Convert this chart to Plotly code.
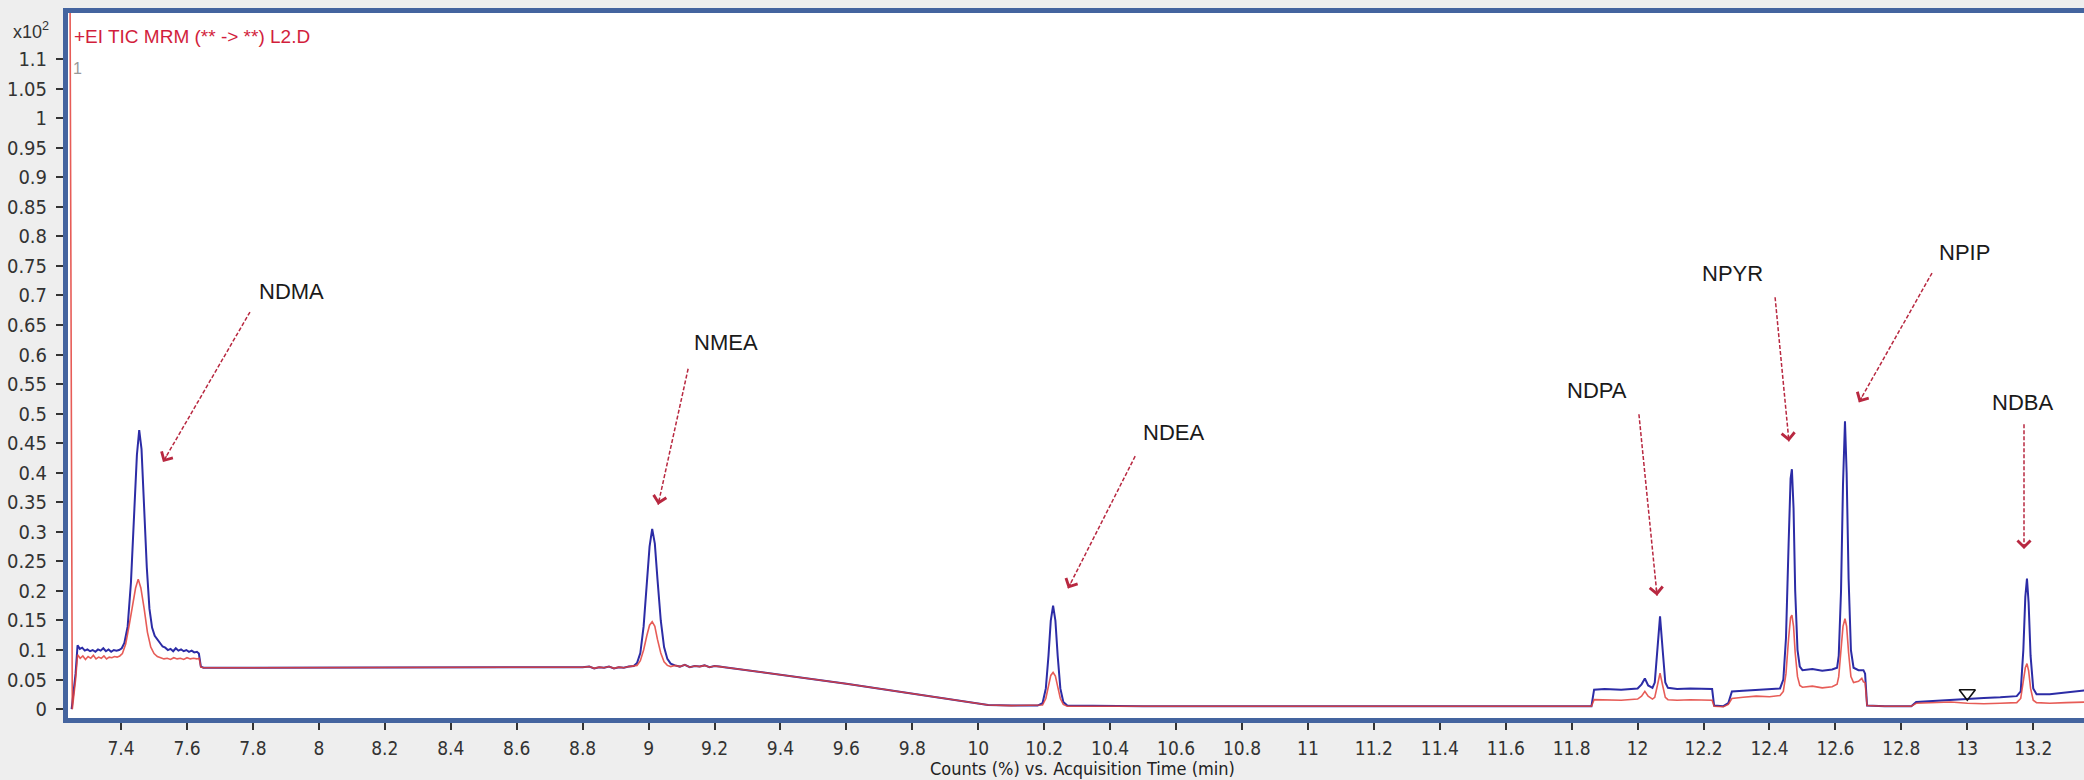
import plotly.graph_objects as go

# ---------------- data ----------------
blue_time = [7.250, 7.262, 7.268, 7.275, 7.282, 7.290, 7.298, 7.306, 7.314, 7.322, 7.330, 7.338, 7.346, 7.354,
             7.362, 7.370, 7.378, 7.386, 7.394, 7.402, 7.410, 7.420, 7.430, 7.440, 7.448, 7.455, 7.462, 7.470,
             7.478, 7.486, 7.494, 7.502, 7.510, 7.518, 7.526, 7.534, 7.542, 7.550, 7.558, 7.566, 7.574, 7.582,
             7.590, 7.598, 7.606, 7.614, 7.622, 7.630, 7.636, 7.642, 7.650, 7.800, 8.000, 8.200, 8.400, 8.600,
             8.800, 8.820, 8.835, 8.850, 8.865, 8.880, 8.895, 8.910, 8.925, 8.940, 8.955, 8.965, 8.975, 8.985,
             8.995, 9.003, 9.011, 9.019, 9.027, 9.037, 9.047, 9.057, 9.067, 9.080, 9.095, 9.110, 9.125, 9.140,
             9.155, 9.170, 9.185, 9.200, 9.215, 9.230, 9.600, 10.030, 10.100, 10.180, 10.195, 10.205, 10.213,
             10.220, 10.227, 10.234, 10.241, 10.249, 10.258, 10.270, 10.500, 11.000, 11.500, 11.860, 11.868,
             11.900, 11.950, 12.000, 12.012, 12.022, 12.032, 12.045, 12.052, 12.060, 12.068, 12.076, 12.084,
             12.092, 12.120, 12.160, 12.200, 12.226, 12.232, 12.260, 12.275, 12.286, 12.320, 12.360, 12.400,
             12.432, 12.442, 12.450, 12.458, 12.464, 12.468, 12.473, 12.478, 12.485, 12.492, 12.500, 12.530,
             12.560, 12.590, 12.605, 12.610, 12.617, 12.623, 12.629, 12.634, 12.640, 12.647, 12.655, 12.670,
             12.685, 12.690, 12.696, 12.750, 12.830, 12.845, 12.900, 12.950, 13.000, 13.050, 13.100, 13.150,
             13.162, 13.170, 13.176, 13.181, 13.186, 13.192, 13.200, 13.210, 13.250, 13.300, 13.360]
blue_counts = [0.000, 0.060, 0.108, 0.102, 0.104, 0.099, 0.101, 0.098, 0.100, 0.097, 0.101, 0.099, 0.103, 0.098,
               0.101, 0.097, 0.100, 0.099, 0.100, 0.103, 0.112, 0.140, 0.215, 0.330, 0.430, 0.472, 0.440, 0.340,
               0.240, 0.170, 0.138, 0.124, 0.118, 0.110, 0.106, 0.104, 0.100, 0.102, 0.098, 0.103, 0.099, 0.101,
               0.098, 0.100, 0.097, 0.099, 0.096, 0.097, 0.094, 0.072, 0.070, 0.070, 0.070, 0.070, 0.070, 0.071,
               0.071, 0.072, 0.069, 0.071, 0.070, 0.072, 0.069, 0.071, 0.070, 0.072, 0.073, 0.078, 0.095, 0.140,
               0.210, 0.275, 0.305, 0.280, 0.220, 0.150, 0.105, 0.085, 0.077, 0.074, 0.072, 0.075, 0.071, 0.073,
               0.072, 0.074, 0.071, 0.073, 0.072, 0.071, 0.043, 0.007, 0.006, 0.006, 0.010, 0.035, 0.090,
               0.150, 0.175, 0.150, 0.090, 0.035, 0.012, 0.006, 0.005, 0.005, 0.005, 0.005, 0.033,
               0.034, 0.033, 0.035, 0.042, 0.052, 0.040, 0.036, 0.045, 0.100, 0.157, 0.100, 0.045,
               0.036, 0.034, 0.035, 0.034, 0.034, 0.006, 0.005, 0.010, 0.030, 0.031, 0.032, 0.034,
               0.035, 0.050, 0.120, 0.280, 0.390, 0.406, 0.340, 0.200, 0.100, 0.072, 0.066, 0.068,
               0.065, 0.067, 0.070, 0.090, 0.200, 0.380, 0.487, 0.400, 0.220, 0.100, 0.070, 0.066,
               0.066, 0.060, 0.006, 0.005, 0.005, 0.012, 0.014, 0.016, 0.018, 0.019, 0.020, 0.022,
               0.030, 0.100, 0.190, 0.221, 0.180, 0.090, 0.035, 0.025, 0.025, 0.028, 0.032]

red_time = [7.245, 7.252, 7.262, 7.268, 7.276, 7.284, 7.292, 7.300, 7.308, 7.316, 7.324, 7.332, 7.340, 7.348,
            7.356, 7.364, 7.372, 7.380, 7.388, 7.396, 7.404, 7.414, 7.424, 7.434, 7.444, 7.452, 7.460, 7.470,
            7.480, 7.490, 7.500, 7.510, 7.520, 7.530, 7.540, 7.550, 7.560, 7.570, 7.580, 7.590, 7.600, 7.610,
            7.620, 7.630, 7.637, 7.642, 7.650, 7.800, 8.000, 8.200, 8.400, 8.600, 8.800, 8.820, 8.835, 8.850,
            8.865, 8.880, 8.895, 8.910, 8.925, 8.940, 8.955, 8.965, 8.975, 8.985, 8.995, 9.003, 9.011, 9.019,
            9.027, 9.037, 9.047, 9.057, 9.067, 9.080, 9.095, 9.110, 9.125, 9.140, 9.155, 9.170, 9.185, 9.200,
            9.215, 9.230, 9.600, 10.030, 10.100, 10.180, 10.195, 10.205, 10.213, 10.220, 10.227, 10.234, 10.241,
            10.249, 10.258, 10.270, 10.500, 11.000, 11.500, 11.860, 11.868, 11.900, 11.950, 12.000, 12.012,
            12.022, 12.032, 12.045, 12.052, 12.060, 12.068, 12.076, 12.084, 12.092, 12.120, 12.160, 12.200,
            12.226, 12.232, 12.260, 12.275, 12.286, 12.320, 12.360, 12.400, 12.432, 12.442, 12.450, 12.458,
            12.464, 12.468, 12.473, 12.478, 12.485, 12.492, 12.500, 12.530, 12.560, 12.590, 12.605, 12.610,
            12.617, 12.623, 12.629, 12.634, 12.640, 12.647, 12.655, 12.670, 12.680, 12.685, 12.690, 12.696,
            12.750, 12.830, 12.845, 12.900, 12.950, 13.000, 13.050, 13.100, 13.150, 13.162, 13.170, 13.176,
            13.181, 13.186, 13.192, 13.200, 13.210, 13.250, 13.300, 13.360]
red_counts = [1.250, 0.000, 0.050, 0.092, 0.086, 0.090, 0.084, 0.089, 0.086, 0.091, 0.085, 0.088, 0.086, 0.090,
              0.085, 0.088, 0.087, 0.089, 0.088, 0.090, 0.094, 0.110, 0.140, 0.175, 0.205, 0.220, 0.205, 0.170,
              0.130, 0.105, 0.094, 0.089, 0.087, 0.085, 0.086, 0.084, 0.087, 0.085, 0.086, 0.084, 0.087, 0.085,
              0.086, 0.085, 0.086, 0.071, 0.070, 0.070, 0.070, 0.070, 0.070, 0.071, 0.071, 0.072, 0.069, 0.071,
              0.070, 0.072, 0.069, 0.071, 0.070, 0.072, 0.073, 0.074, 0.082, 0.100, 0.125, 0.142, 0.148, 0.140,
              0.118, 0.095, 0.080, 0.074, 0.072, 0.074, 0.072, 0.075, 0.071, 0.073, 0.072, 0.074, 0.071, 0.073,
              0.072, 0.071, 0.043, 0.007, 0.006, 0.006, 0.007, 0.018, 0.040, 0.057, 0.062, 0.056, 0.038,
              0.018, 0.008, 0.005, 0.005, 0.005, 0.005, 0.005, 0.016, 0.016, 0.015, 0.017, 0.022,
              0.030, 0.022, 0.017, 0.020, 0.040, 0.061, 0.040, 0.020, 0.016, 0.015, 0.016, 0.015,
              0.015, 0.005, 0.004, 0.008, 0.018, 0.020, 0.022, 0.021, 0.023, 0.030, 0.060, 0.120,
              0.155, 0.159, 0.140, 0.095, 0.055, 0.040, 0.037, 0.039, 0.036, 0.038, 0.042, 0.055,
              0.100, 0.140, 0.153, 0.140, 0.095, 0.055, 0.045, 0.047, 0.052, 0.046, 0.045, 0.006,
              0.005, 0.005, 0.010, 0.011, 0.012, 0.010, 0.009, 0.010, 0.011, 0.018, 0.045, 0.070,
              0.077, 0.065, 0.035, 0.015, 0.011, 0.010, 0.011, 0.012]

# peak labels: name, text position, arrow tail, arrow tip (time, counts x10^2)
peak_names = ["NDMA", "NMEA", "NDEA", "NDPA", "NPYR", "NPIP", "NDBA"]
label_t = [7.916, 9.235, 10.591, 11.877, 12.289, 12.993, 13.166]
label_v = [0.706, 0.620, 0.468, 0.539, 0.738, 0.773, 0.519]
tail_t = [7.791, 9.120, 10.476, 12.004, 12.417, 12.893, 13.172]
tail_v = [0.672, 0.576, 0.428, 0.499, 0.697, 0.738, 0.482]
tip_t = [7.527, 9.029, 10.272, 12.059, 12.459, 12.671, 13.172]
tip_v = [0.418, 0.346, 0.204, 0.192, 0.453, 0.519, 0.271]

marker_t = [13.0]
marker_v = [0.027]

x_ticks = [round(7.4 + 0.2 * i, 1) for i in range(30)]
x_ticktext = [("%g" % v) for v in x_ticks]
y_ticks = [round(0.05 * i, 2) for i in range(23)]
y_ticktext = [("%g" % v) for v in y_ticks]

# ---------------- figure ----------------
BLUE = "#2c2ca6"
RED = "#e3403a"
ARROW = "#b82840"
NARROW = "Liberation Sans Narrow, DejaVu Sans Condensed, Arial Narrow, Liberation Sans, Arial, sans-serif"
SANS = "Liberation Sans, Arial, sans-serif"

fig = go.Figure()
fig.add_trace(go.Scatter(x=blue_time, y=blue_counts, mode="lines",
                         line=dict(color=BLUE, width=2.0), hoverinfo="skip"))
fig.add_trace(go.Scatter(x=red_time, y=red_counts, mode="lines",
                         line=dict(color=RED, width=1.6), opacity=0.85, hoverinfo="skip"))
fig.add_trace(go.Scatter(x=marker_t, y=marker_v, mode="markers",
                         marker=dict(symbol="triangle-down-open", size=14, color="#111",
                                     line=dict(width=1.6, color="#111")), hoverinfo="skip"))

for i, name in enumerate(peak_names):
    fig.add_shape(type="line", xref="x", yref="y",
                  x0=tail_t[i], y0=tail_v[i], x1=tip_t[i], y1=tip_v[i],
                  line=dict(color=ARROW, width=1.5, dash="4px,2px"))
    fig.add_annotation(x=tip_t[i], y=tip_v[i], xref="x", yref="y",
                       ax=tip_t[i] + 0.05 * (tail_t[i] - tip_t[i]),
                       ay=tip_v[i] + 0.05 * (tail_v[i] - tip_v[i]),
                       axref="x", ayref="y", text="", showarrow=True,
                       arrowhead=4, arrowsize=1.8, arrowwidth=1.4, arrowcolor=ARROW)
    fig.add_annotation(x=label_t[i], y=label_v[i], xref="x", yref="y", text=name,
                       showarrow=False, font=dict(family=SANS, size=22, color="#1a1a1a"),
                       xanchor="center", yanchor="middle")

# header texts
fig.add_annotation(xref="paper", yref="paper", x=0.002, y=0.966, xanchor="left", yanchor="middle",
                   text="+EI TIC MRM (** -&gt; **) L2.D", showarrow=False,
                   font=dict(family=SANS, size=19, color="#d21e3c"))
fig.add_annotation(xref="paper", yref="paper", x=-0.0185, y=0.975, xanchor="center", yanchor="middle",
                   text="x10<sup>2</sup>", showarrow=False,
                   font=dict(family=SANS, size=18, color="#333"))
fig.add_annotation(xref="paper", yref="paper", x=0.0045, y=0.921, xanchor="center", yanchor="middle",
                   text="1", showarrow=False, font=dict(family=SANS, size=16, color="#999"))
fig.add_annotation(xref="paper", yref="paper", x=0.503, y=-0.0715, xanchor="center", yanchor="middle",
                   text="Counts (%) vs. Acquisition Time (min)", showarrow=False,
                   font=dict(family=NARROW, size=18, color="#222"))

fig.update_xaxes(range=[7.239, 13.354], tickvals=x_ticks, ticktext=x_ticktext,
                 ticks="outside", ticklen=7, tickwidth=1.5, tickcolor="#333",
                 showline=True, linecolor="#44649f", linewidth=5, mirror=True,
                 showgrid=False, zeroline=False, ticklabelstandoff=2,
                 tickfont=dict(family=NARROW, size=19, color="#333"))
fig.update_yaxes(range=[-0.015, 1.178], tickvals=y_ticks, ticktext=y_ticktext,
                 ticks="outside", ticklen=7, tickwidth=1.5, tickcolor="#333",
                 showline=True, linecolor="#44649f", linewidth=5, mirror=False,
                 showgrid=False, zeroline=False, ticklabelstandoff=5,
                 tickfont=dict(family=NARROW, size=20, color="#333"))

fig.update_layout(width=2084, height=780, margin=dict(l=68, r=0, t=13, b=62),
                  paper_bgcolor="#eeeeee", plot_bgcolor="white", showlegend=False)

fig.write_html("out.html")
